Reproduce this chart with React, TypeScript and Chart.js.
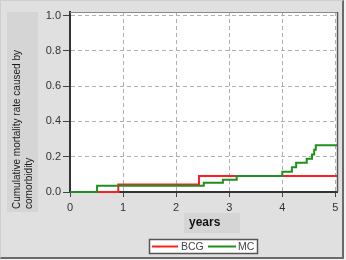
import React, { useEffect, useRef } from "react";
import { Chart, registerables } from "chart.js";

Chart.register(...registerables);

// ---- data ----
const X_MAX = 5.03; // end of follow-up shown
const X_TICKS = [0, 1, 2, 3, 4, 5];
const Y_TICKS = [0, 0.2, 0.4, 0.6, 0.8, 1.0];
const Y_MAX = 1.02;

const BCG_TIMES = [0, 0.91, 2.43, 5.03];
const BCG_VALUES = [0, 0.042, 0.09, 0.09];

const MC_TIMES = [0, 0.51, 2.52, 2.88, 3.14, 4.0, 4.18, 4.26, 4.46, 4.56, 4.6, 4.63, 5.03];
const MC_VALUES = [0, 0.035, 0.053, 0.07, 0.09, 0.115, 0.14, 0.166, 0.188, 0.213, 0.24, 0.265, 0.265];

const SERIES_LABELS = ["BCG", "MC"];
const SERIES_COLORS = ["#ff1f1f", "#1f8f1f"];
const Y_TITLE = ["Cumulative mortality rate caused by", "comorbidity"];
const X_TITLE = "years";

const FONT = "'Liberation Sans', Arial, sans-serif";

const decorPlugin = {
  id: "decor",
  beforeDraw(chart: any) {
    const { ctx, chartArea } = chart;
    ctx.save();
    ctx.fillStyle = "#ffffff";
    ctx.fillRect(chartArea.left, chartArea.top, chartArea.right - chartArea.left, chartArea.bottom - chartArea.top);
    // y title box
    ctx.fillStyle = "#d5d5d5";
    ctx.fillRect(7, chartArea.top, 31, 200);
    // x title box
    ctx.fillRect(184, 213, 56, 20);
    ctx.restore();
  },
  afterDraw(chart: any) {
    const { ctx, chartArea } = chart;
    ctx.save();
    // plot frame top/right
    ctx.strokeStyle = "#8a8a8a";
    ctx.lineWidth = 1;
    ctx.beginPath();
    ctx.moveTo(chartArea.left, chartArea.top + 0.5);
    ctx.lineTo(chartArea.right + 0.5, chartArea.top + 0.5);
    ctx.stroke();
    ctx.strokeStyle = "#555";
    ctx.lineWidth = 1.5;
    ctx.beginPath();
    ctx.moveTo(chartArea.right + 0.5, chartArea.top);
    ctx.lineTo(chartArea.right + 0.5, chartArea.bottom);
    ctx.stroke();

    // y title
    ctx.fillStyle = "#1a1a1a";
    ctx.font = `10px ${FONT}`;
    ctx.textAlign = "left";
    ctx.textBaseline = "middle";
    ctx.save();
    ctx.translate(17, 209);
    ctx.rotate(-Math.PI / 2);
    ctx.fillText(Y_TITLE[0], 0, 0);
    ctx.fillText(Y_TITLE[1], 0, 12);
    ctx.restore();

    // x title
    ctx.font = `bold 12px ${FONT}`;
    ctx.fillStyle = "#111";
    ctx.fillText(X_TITLE, 189, 223);

    // legend
    ctx.fillStyle = "#ffffff";
    ctx.fillRect(149.5, 239.5, 108, 14);
    ctx.strokeStyle = "#555";
    ctx.lineWidth = 1.5;
    ctx.strokeRect(149.5, 239.5, 108, 14);
    ctx.font = `10.5px ${FONT}`;
    const items = chart.data.datasets;
    const xs = [[152, 178, 181], [208, 236, 238]];
    items.forEach((ds: any, i: number) => {
      ctx.strokeStyle = ds.borderColor;
      ctx.lineWidth = 2;
      ctx.beginPath();
      ctx.moveTo(xs[i][0], 246.5);
      ctx.lineTo(xs[i][1], 246.5);
      ctx.stroke();
      ctx.fillStyle = "#444";
      ctx.fillText(ds.label, xs[i][2], 247);
    });
    ctx.restore();
  },
};

export default function App() {
  const ref = useRef<HTMLCanvasElement>(null);
  useEffect(() => {
    if (!ref.current) return;
    const mk = (t: number[], v: number[]) => t.map((x, i) => ({ x, y: v[i] }));
    const chart = new Chart(ref.current, {
      type: "line",
      data: {
        datasets: [
          {
            label: SERIES_LABELS[0],
            data: mk(BCG_TIMES, BCG_VALUES),
            borderColor: SERIES_COLORS[0],
            borderWidth: 2,
            pointRadius: 0,
            stepped: "before",
            fill: false,
            clip: false,
            order: 2,
          },
          {
            label: SERIES_LABELS[1],
            data: mk(MC_TIMES, MC_VALUES),
            borderColor: SERIES_COLORS[1],
            borderWidth: 2,
            pointRadius: 0,
            stepped: "before",
            fill: false,
            clip: false,
            order: 1,
          },
        ],
      },
      options: {
        responsive: false,
        animation: false,
        devicePixelRatio: 1,
        layout: { padding: { left: 0, top: 12, right: 9, bottom: 0 } },
        plugins: { legend: { display: false }, tooltip: { enabled: false } },
        scales: {
          x: {
            type: "linear",
            min: 0,
            max: X_MAX,
            afterBuildTicks: (s: any) => {
              s.ticks = X_TICKS.map((v) => ({ value: v }));
            },
            afterFit: (s: any) => {
              s.height = 68;
            },
            ticks: {
              color: "#333",
              font: { family: FONT, size: 11 },
              padding: 4,
              maxRotation: 0,
              callback: (v: any) => String(v),
            },
            grid: {
              color: "#b0b0b0",
              lineWidth: 1,
              tickLength: 5,
              tickColor: "#444",
              tickWidth: 1,
              tickBorderDash: [],
            },
            border: { color: "#333", width: 2, dash: [4, 3] as any },
          },
          y: {
            type: "linear",
            min: 0,
            max: Y_MAX,
            afterBuildTicks: (s: any) => {
              s.ticks = Y_TICKS.map((v) => ({ value: v }));
            },
            afterFit: (s: any) => {
              s.width = 70;
            },
            ticks: {
              color: "#333",
              font: { family: FONT, size: 11 },
              padding: 2,
              callback: (v: any) => Number(v).toFixed(1),
            },
            grid: {
              color: "#b0b0b0",
              lineWidth: 1,
              tickLength: 7,
              tickColor: "#444",
              tickWidth: 1,
              tickBorderDash: [],
            },
            border: { color: "#333", width: 2, dash: [4, 3] as any },
          },
        },
      },
      plugins: [decorPlugin],
    } as any);
    return () => chart.destroy();
  }, []);

  return (
    <div style={{ position: "fixed", left: 0, top: 0, width: 346, height: 260, background: "#f2f2f2" }}>
      <div
        style={{
          position: "absolute",
          left: 0,
          top: 0,
          width: 344,
          height: 259,
          boxSizing: "border-box",
          background: "#e0e0e0",
          borderTop: "1px solid #cfcfcf",
          borderLeft: "1px solid #cfcfcf",
          borderRight: "2px solid #6a6a6a",
          borderBottom: "2px solid #6a6a6a",
        }}
      />
      <canvas ref={ref} width={346} height={260} style={{ position: "absolute", left: 0, top: 0, display: "block" }} />
    </div>
  );
}
